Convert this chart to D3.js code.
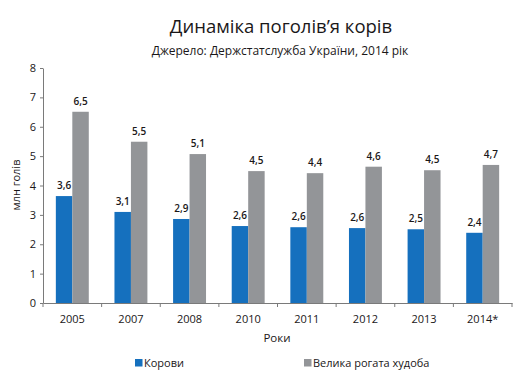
<!DOCTYPE html>
<html><head><meta charset="utf-8">
<script src="https://cdn.jsdelivr.net/npm/d3@7"></script>
<style>body{margin:0;background:#fff}svg{display:block}text{font-family:"Open Sans",sans-serif;fill:#1a1718}</style>
</head><body><svg id="c" width="520" height="382"></svg>
<script>
const years = ["2005","2007","2008","2010","2011","2012","2013","2014*"];
const cows = [3.64,3.1,2.86,2.62,2.58,2.55,2.51,2.39];
const cattle = [6.51,5.49,5.07,4.49,4.42,4.64,4.52,4.70];
const cowsLabels = ["3,6","3,1","2,9","2,6","2,6","2,6","2,5","2,4"];
const cattleLabels = ["6,5","5,5","5,1","4,5","4,4","4,6","4,5","4,7"];
const seriesNames = ["Корови","Велика рогата худоба"];
const yTicks = [0,1,2,3,4,5,6,7,8];
const colors = ["#1570be","#939598"];

const svg = d3.select("#c");
const x = d3.scaleBand().domain(years).range([43,512]).paddingInner(0).paddingOuter(0);
const y = d3.scaleLinear().domain([0,8]).range([303,68]);
const inner = d3.scaleBand().domain([0,1]).range([0,x.bandwidth()]).paddingInner(0).paddingOuter(0.78);

svg.append("text").attr("x",281).attr("y",33).attr("text-anchor","middle").attr("font-size",18.5).attr("font-weight",500).text("Динаміка поголів’я корів");
svg.append("text").attr("x",280).attr("y",55).attr("text-anchor","middle").attr("font-size",12).attr("font-weight",500).text("Джерело: Держстатслужба України, 2014 рік");

const data = years.map((yr,i)=>({yr, vals:[cows[i],cattle[i]], labs:[cowsLabels[i],cattleLabels[i]]}));
const g = svg.append("g");
data.forEach(d=>{
  [0,1].forEach(s=>{
    const bx = x(d.yr)+inner(s);
    g.append("rect").attr("x",bx).attr("y",y(d.vals[s])).attr("width",inner.bandwidth()).attr("height",y(0)-y(d.vals[s])).attr("fill",colors[s]);
    g.append("text").attr("x",bx+inner.bandwidth()/2).attr("y",y(d.vals[s])-7).attr("text-anchor","middle").attr("font-size",10).attr("font-weight",600).text(d.labs[s]);
  });
});

const ya = svg.append("g").attr("transform","translate(43,0)").call(d3.axisLeft(y).tickValues(yTicks).tickSize(3).tickPadding(4).tickSizeOuter(0));
ya.select(".domain").attr("stroke","#7a7a7a");
ya.selectAll(".tick line").attr("stroke","#7a7a7a");
ya.selectAll("text").attr("font-size",11).attr("font-weight",500).style("font-family","'Open Sans',sans-serif").attr("fill","#1a1718");

const xa = svg.append("g").attr("transform","translate(0,303)").call(d3.axisBottom(x).tickSize(0).tickPadding(12).tickSizeOuter(0));
xa.select(".domain").attr("stroke","#7a7a7a");
xa.selectAll("text").attr("font-size",11).attr("font-weight",500).style("font-family","'Open Sans',sans-serif").attr("fill","#1a1718");
const bounds = years.map(v=>x(v)).concat([x.range()[1]]);
svg.append("g").selectAll("line").data(bounds).join("line").attr("x1",d=>d).attr("x2",d=>d).attr("y1",303).attr("y2",307).attr("stroke","#7a7a7a");

svg.append("text").attr("x",277).attr("y",342).attr("text-anchor","middle").attr("font-size",11.5).attr("font-weight",500).text("Роки");
svg.append("text").attr("transform","translate(20,185) rotate(-90)").attr("text-anchor","middle").attr("font-size",11).attr("font-weight",500).text("млн голів");

const leg = [{x:135},{x:304}];
leg.forEach((l,i)=>{
  svg.append("rect").attr("x",l.x).attr("y",359).attr("width",7.5).attr("height",7.5).attr("fill",colors[i]);
  svg.append("text").attr("x",l.x+9).attr("y",367).attr("font-size",11).attr("font-weight",500).text(seriesNames[i]);
});
</script></body></html>
